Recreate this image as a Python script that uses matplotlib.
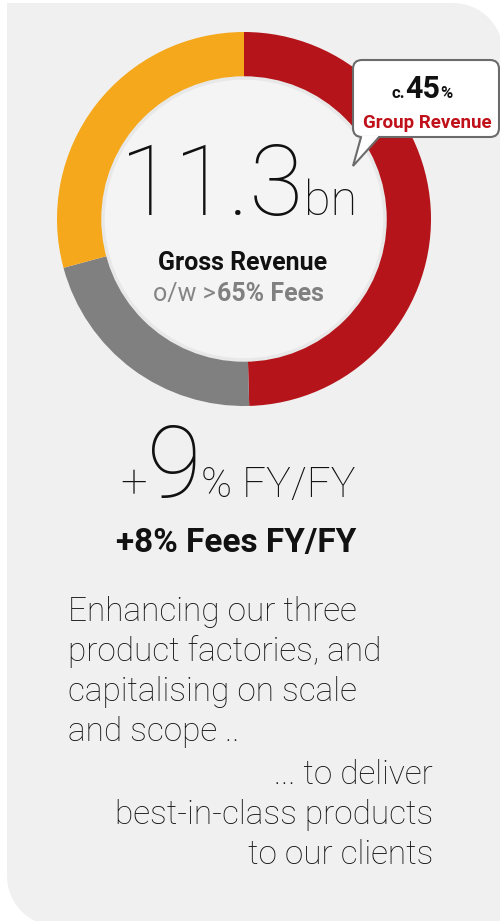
import numpy as np
import matplotlib.pyplot as plt
from matplotlib.path import Path
from matplotlib.patches import PathPatch, Circle, FancyBboxPatch, Polygon

W, H = 500, 921

# revenue split (bn) shown in the ring
segments = ['Group share', 'Other A', 'Other B']
values = [5.6, 2.4, 3.3]
colors = ['#b5151a', '#808080', '#f5a81b']

total = 11.3
growth = 9
fees_growth = 8
fees_share = 65
group_share = 45

left_lines = ['Enhancing our three', 'product factories, and',
              'capitalising on scale', 'and scope ..']
right_lines = ['... to deliver', 'best-in-class products', 'to our clients']

plt.rcParams['font.family'] = ['Roboto', 'DejaVu Sans']

fig = plt.figure(figsize=(W / 100, H / 100), dpi=100)
ax = fig.add_axes([0, 0, 1, 1])


def Y(y):
    return H - y


def chain(x, y, parts, **kw):
    # lay text pieces side by side on one baseline
    renderer = fig.canvas.get_renderer()
    for s, size, weight, color in parts:
        t = ax.text(x, y, s, fontsize=size, fontweight=weight, color=color,
                    ha='left', va='baseline', **kw)
        bb = t.get_window_extent(renderer)
        x += bb.width * W / fig.bbox.width
    return x


# background panel: square top-left, rounded top-right and bottom-left
r = 50
x0, y0, x1, y1 = 7, Y(3), 503, Y(921)
t = np.linspace(0, np.pi / 2, 20)
pts = [(x0, y0), (x1 - r, y0)]
pts += [(x1 - r + r * np.sin(a), y0 - r + r * np.cos(a)) for a in t]
pts += [(x1, y1 - 5), (x0 + r, y1 - 5)]
pts += [(x0 + r - r * np.sin(a), y1 - 5 + r - r * np.cos(a)) for a in t]
pts += [(x0, y0)]
ax.add_patch(PathPatch(Path(pts), fc='#f0f0f0', ec='none'))

cx, cy = 244, Y(219)
ax.pie(values, colors=colors, startangle=90, counterclock=False,
       center=(cx, cy), radius=187,
       wedgeprops=dict(width=46, edgecolor='none'))
ax.add_patch(Circle((cx, cy), 141, fc='#f4f4f4', ec='#e8e8e8', lw=2.5))

# pie() resets the limits, so fix them afterwards
ax.set_xlim(0, W)
ax.set_ylim(0, H)
ax.set_aspect('auto')
ax.axis('off')

# centre labels
ax.text(303, Y(215), f'{total}', fontsize=71, fontweight='light',
        ha='right', va='baseline', color='#111111')
ax.text(304, Y(215), 'bn', fontsize=35, fontweight='light',
        ha='left', va='baseline', color='#111111')
ax.text(243, Y(270), 'Gross Revenue', fontsize=18, fontweight='bold',
        ha='center', va='baseline', color='#111111')
ax.text(216, Y(301), 'o/w >', fontsize=18, ha='right', va='baseline',
        color='#858585')
ax.text(217, Y(301), f'{fees_share}% Fees', fontsize=18, fontweight='bold',
        ha='left', va='baseline', color='#808080')

# callout bubble
ax.add_patch(FancyBboxPatch((361, Y(129)), 130, 61,
                            boxstyle='round,pad=8,rounding_size=9',
                            fc='white', ec='#6b6b6b', lw=1.5, zorder=5))
ax.add_patch(Polygon([(361, Y(136)), (379, Y(136)), (353, Y(166))],
                     closed=True, fc='white', ec='none', zorder=6))
ax.plot([361, 353, 379], [Y(137.2), Y(166), Y(137.2)], color='#6b6b6b',
        lw=1.5, zorder=7, solid_joinstyle='miter')
chain(392, Y(98), [('c.', 12, 'bold', '#111111'),
                   (f'{group_share}', 22, 'bold', '#111111'),
                   ('%', 12, 'bold', '#111111')], zorder=8)
ax.text(427, Y(128), 'Group Revenue', fontsize=13.5, fontweight='bold',
        ha='center', va='baseline', color='#c0111a', zorder=8)

# growth figures
chain(120, Y(497), [('+', 34, 'light', '#111111'),
                    (f'{growth}', 72, 'light', '#111111'),
                    ('% FY/FY', 30, 'light', '#111111')])
ax.text(236, Y(552), f'+{fees_growth}% Fees FY/FY', fontsize=24,
        fontweight='bold', ha='center', va='baseline', color='#111111')

for i, line in enumerate(left_lines):
    ax.text(68, Y(621 + 40 * i), line, fontsize=24, fontweight='light',
            ha='left', va='baseline', color='#111111')
for i, line in enumerate(right_lines):
    ax.text(433, Y(784 + 40 * i), line, fontsize=24, fontweight='light',
            ha='right', va='baseline', color='#111111')

fig.savefig('out.png', dpi=100, facecolor='white')
